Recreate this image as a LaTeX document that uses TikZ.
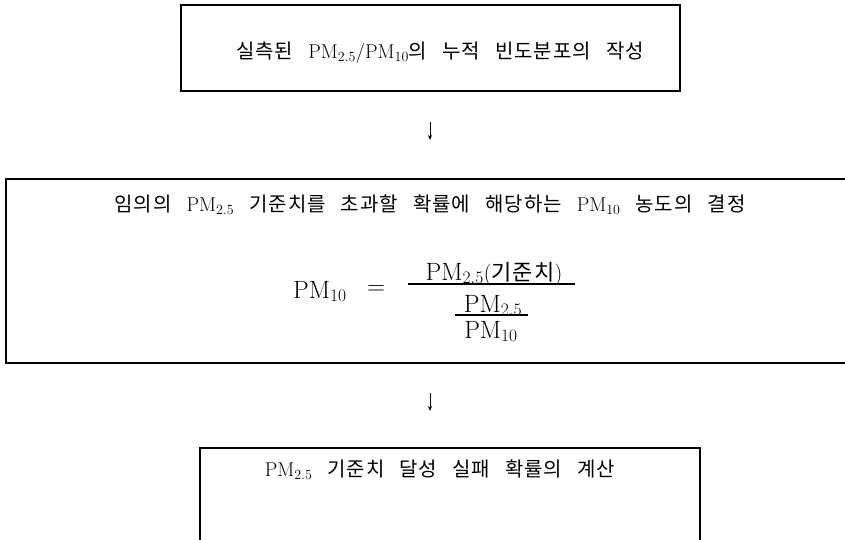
\documentclass[tikz,border=0pt]{standalone}
\usepackage{fix-cm}
\usepackage{amsmath}
\usepackage{fontspec}
\newfontfamily\krfont[LetterSpace=5]{Noto Sans CJK KR}
\newcommand{\K}[1]{{\krfont #1}}
\newcommand{\PMs}[1]{PM\textsubscript{#1}}
\newcommand{\gap}{\hspace{15pt}}
\usetikzlibrary{arrows.meta,calc}
\begin{document}
\begin{tikzpicture}[x=1pt,y=-1pt,
  frame/.style={draw, line width=2.6pt, inner sep=0pt, rectangle},
  flowarrow/.style={-{Stealth[length=5pt,width=4pt]}, line width=0.8pt},
  txt/.style={inner sep=0pt, font=\fontsize{20}{24}\selectfont},
  formula/.style={inner sep=0pt, anchor=base, font=\fontsize{25}{30}\selectfont},
  fracbar/.style={line width=1.3pt},
]
\useasboundingbox (0,0) rectangle (845,539);
\clip (0,0) rectangle (845,539);
% boxes
\node[frame, minimum width=499pt, minimum height=86pt] (b1) at (430.5,48) {};
\node[frame, minimum width=846pt, minimum height=184pt] (b2) at (429,271) {};
\node[frame, minimum width=500pt, minimum height=120pt] (b3) at (450,508) {};
% texts
\node[txt] (t1) at (440,53) {\K{실측된}\gap\PMs{2.5}/\PMs{10}\K{의}\gap\K{누적}\gap\K{빈도분포의}\gap\K{작성}};
\node[txt] (t2) at (430,205) {\K{임의의}\gap\PMs{2.5}\gap\K{기준치를}\gap\K{초과할}\gap\K{확률에}\gap\K{해당하는}\gap\PMs{10}\gap\K{농도의}\gap\K{결정}};
% formula
\node[formula, anchor=base west] (lhs) at (293,298) {$\mathrm{PM}_{10}$};
\node[formula] (eq) at (376,294) {$=$};
\node[formula] (num) at (494,280) {$\mathrm{PM}_{2.5}$\fontsize{22}{26}\selectfont(\K{기준치})};
\node[formula] (inum) at (493,312) {$\mathrm{PM}_{2.5}$};
\node[formula] (den) at (491,338) {$\mathrm{PM}_{10}$};
\draw[fracbar] (408,284) -- (575,284);
\draw[fracbar] (455,315) -- (528,315);
\node[txt] (t3) at (440,470) {\PMs{2.5}\gap\K{기준치}\gap\K{달성}\gap\K{실패}\gap\K{확률의}\gap\K{계산}};
% arrows
\coordinate (a1s) at (430,122);
\coordinate (a1e) at (430,140);
\coordinate (a2s) at (430,393);
\coordinate (a2e) at (430,411);
\draw[flowarrow] (a1s) -- (a1e);
\draw[flowarrow] (a2s) -- (a2e);
\end{tikzpicture}
\end{document}
